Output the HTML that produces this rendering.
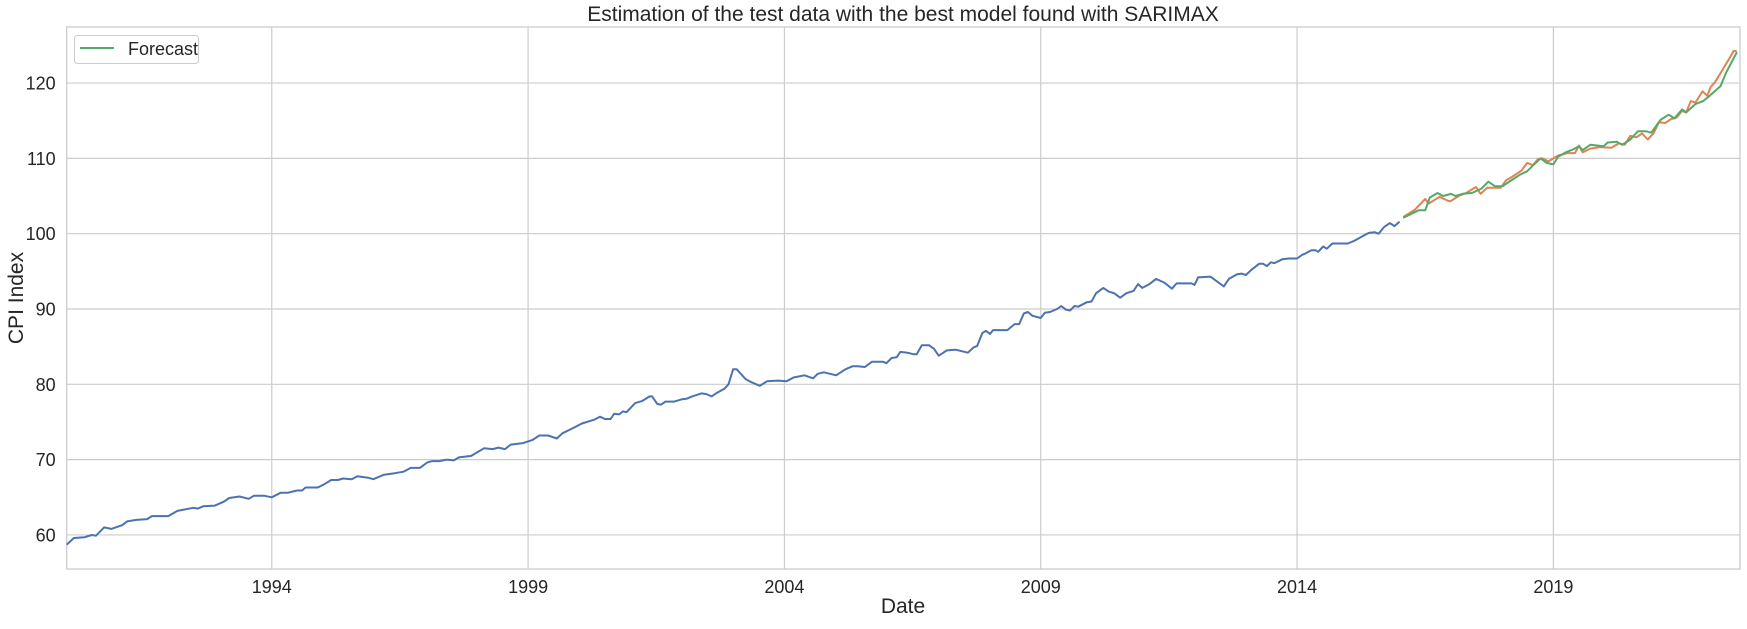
<!DOCTYPE html>
<html><head><meta charset="utf-8"><style>
html,body{margin:0;padding:0;background:#fff;}
svg text{font-family:"Liberation Sans",Arial,sans-serif;fill:#262626;}
</style></head><body>
<svg id="chart" width="1747" height="624" xmlns="http://www.w3.org/2000/svg">
<g id="grid"></g>
<g id="series"></g>
<g id="ticks"></g>
<text x="903" y="21" font-size="21" text-anchor="middle">Estimation of the test data with the best model found with SARIMAX</text>
<text x="903" y="613" font-size="21" text-anchor="middle">Date</text>
<text x="0" y="0" font-size="21" text-anchor="middle" transform="translate(23,298) rotate(-90)">CPI Index</text>
<g>
<rect x="74.5" y="35.5" width="124" height="28" rx="3" fill="#fff" stroke="#cccccc" stroke-width="1"/>
<line x1="80" y1="48" x2="114" y2="48" stroke="#55a868" stroke-width="2"/>
<text x="128" y="55" font-size="18">Forecast</text>
</g>
</svg>
<script>
const trainYears=[1990.0,1990.14,1990.35,1990.49,1990.57,1990.73,1990.87,1991.08,1991.18,1991.36,1991.57,1991.66,1991.98,1992.16,1992.47,1992.56,1992.66,1992.89,1993.06,1993.17,1993.37,1993.55,1993.65,1993.86,1994.0,1994.17,1994.31,1994.49,1994.59,1994.66,1994.9,1995.04,1995.16,1995.29,1995.39,1995.56,1995.67,1995.88,1995.98,1996.19,1996.4,1996.57,1996.71,1996.89,1997.03,1997.13,1997.27,1997.41,1997.55,1997.65,1997.89,1998.14,1998.31,1998.42,1998.55,1998.66,1998.9,1999.08,1999.22,1999.39,1999.56,1999.67,1999.88,2000.05,2000.29,2000.4,2000.5,2000.61,2000.68,2000.78,2000.85,2000.92,2001.09,2001.23,2001.37,2001.42,2001.52,2001.59,2001.68,2001.85,2001.99,2002.1,2002.2,2002.38,2002.48,2002.58,2002.69,2002.83,2002.91,2003.0,2003.07,2003.24,2003.35,2003.52,2003.66,2003.87,2004.04,2004.18,2004.39,2004.56,2004.65,2004.77,2005.01,2005.19,2005.33,2005.43,2005.57,2005.71,2005.92,2005.99,2006.09,2006.19,2006.26,2006.4,2006.51,2006.58,2006.68,2006.82,2006.92,2007.01,2007.17,2007.34,2007.58,2007.69,2007.76,2007.86,2007.93,2008.01,2008.07,2008.35,2008.49,2008.58,2008.67,2008.75,2008.84,2009.0,2009.08,2009.18,2009.32,2009.4,2009.49,2009.57,2009.66,2009.73,2009.9,2009.99,2010.08,2010.22,2010.33,2010.43,2010.55,2010.67,2010.81,2010.9,2010.98,2011.12,2011.25,2011.41,2011.56,2011.65,2011.94,2012.0,2012.07,2012.31,2012.57,2012.67,2012.83,2012.92,2013.0,2013.11,2013.26,2013.34,2013.41,2013.49,2013.56,2013.71,2013.84,2014.0,2014.1,2014.17,2014.28,2014.36,2014.41,2014.51,2014.58,2014.69,2014.99,2015.1,2015.29,2015.4,2015.51,2015.59,2015.7,2015.81,2015.9,2016.0];
const trainValues=[58.7,59.6,59.7,60.0,59.9,61.0,60.8,61.3,61.8,62.0,62.1,62.5,62.5,63.2,63.6,63.5,63.8,63.9,64.4,64.9,65.1,64.8,65.2,65.2,65.0,65.6,65.6,65.9,65.9,66.3,66.3,66.8,67.3,67.3,67.5,67.4,67.8,67.6,67.4,68.0,68.2,68.4,68.9,68.9,69.6,69.8,69.8,70.0,69.9,70.3,70.5,71.5,71.4,71.6,71.4,72.0,72.2,72.6,73.2,73.2,72.8,73.5,74.2,74.8,75.3,75.7,75.4,75.4,76.1,76.0,76.4,76.3,77.5,77.8,78.4,78.4,77.4,77.3,77.7,77.7,78.0,78.1,78.4,78.8,78.7,78.4,78.9,79.4,80.0,82.0,82.0,80.7,80.3,79.8,80.4,80.5,80.4,80.9,81.2,80.8,81.4,81.6,81.2,82.0,82.4,82.4,82.3,83.0,83.0,82.8,83.5,83.6,84.3,84.2,84.0,84.0,85.2,85.2,84.7,83.8,84.5,84.6,84.2,84.9,85.1,86.8,87.1,86.7,87.2,87.2,88.0,88.0,89.4,89.6,89.1,88.8,89.5,89.6,90.0,90.4,89.9,89.8,90.4,90.3,90.9,91.0,92.1,92.8,92.3,92.1,91.5,92.1,92.4,93.3,92.8,93.3,94.0,93.5,92.7,93.4,93.4,93.2,94.2,94.3,93.0,94.0,94.6,94.7,94.5,95.2,96.0,96.0,95.7,96.2,96.1,96.6,96.7,96.7,97.2,97.4,97.8,97.8,97.6,98.3,98.0,98.7,98.7,99.0,99.7,100.1,100.2,100.0,100.9,101.4,101.0,101.6];
const testYears=[2016.07,2016.3,2016.5,2016.57,2016.78,2016.93,2016.99,2017.15,2017.3,2017.49,2017.58,2017.71,2017.97,2018.08,2018.23,2018.38,2018.49,2018.6,2018.7,2018.79,2018.9,2019.0,2019.1,2019.28,2019.42,2019.5,2019.57,2019.72,2019.91,2020.13,2020.28,2020.39,2020.5,2020.62,2020.73,2020.84,2020.95,2021.06,2021.18,2021.29,2021.4,2021.51,2021.59,2021.68,2021.77,2021.91,2022.0,2022.07,2022.15,2022.26,2022.41,2022.52,2022.58];
const testValues=[102.2,103.2,104.6,104.0,104.9,104.4,104.3,105.0,105.4,106.2,105.3,106.1,106.1,107.1,107.7,108.4,109.4,109.1,109.9,110.0,109.6,110.0,110.4,110.7,110.7,111.7,110.8,111.3,111.5,111.4,112.0,111.8,113.0,112.8,113.3,112.5,113.3,114.8,114.7,115.2,115.4,116.3,116.1,117.6,117.4,118.9,118.3,119.5,120.1,121.3,123.0,124.3,124.2];
const forecastYears=[2016.07,2016.37,2016.5,2016.59,2016.74,2016.85,2017.0,2017.09,2017.23,2017.41,2017.6,2017.73,2017.86,2018.01,2018.16,2018.34,2018.49,2018.64,2018.75,2018.87,2019.0,2019.09,2019.24,2019.39,2019.5,2019.57,2019.72,2019.98,2020.06,2020.24,2020.34,2020.5,2020.65,2020.8,2020.91,2021.09,2021.25,2021.36,2021.51,2021.59,2021.77,2021.92,2022.03,2022.26,2022.37,2022.58];
const forecastValues=[102.1,103.1,103.1,104.8,105.4,105.0,105.3,105.0,105.3,105.4,106.0,106.9,106.3,106.3,107.0,107.8,108.3,109.3,110.0,109.4,109.2,110.2,110.8,111.2,111.6,111.1,111.8,111.6,112.1,112.2,111.8,112.5,113.6,113.6,113.4,115.1,115.8,115.3,116.5,116.1,117.2,117.6,118.2,119.6,121.4,124.1];
const yTicks=[60,70,80,90,100,110,120];
const xTicks=[1994,1999,2004,2009,2014,2019];
const xTickLabels=["1994","1999","2004","2009","2014","2019"];

const L=66.7,R=1740,T=27,B=569;
const X0=1990.0,X1=2022.64,Y0=55.48,Y1=127.44;
const xs=v=>L+(v-X0)/(X1-X0)*(R-L);
const ys=v=>B-(v-Y0)/(Y1-Y0)*(B-T);
const NS="http://www.w3.org/2000/svg";
function mk(tag,attrs,parent){const e=document.createElementNS(NS,tag);for(const k in attrs)e.setAttribute(k,attrs[k]);parent.appendChild(e);return e;}
const grid=document.getElementById('grid'),ticks=document.getElementById('ticks'),series=document.getElementById('series');
yTicks.forEach(v=>{
  const l=mk('line',{x1:L,x2:R,y1:ys(v),y2:ys(v),stroke:'#cccccc','stroke-width':1.2},grid);
  
  
  const t=mk('text',{x:L-11,y:ys(v)+6.5,'font-size':18,'text-anchor':'end'},ticks);
  t.textContent=String(v);
  
  
});
xTicks.forEach((v,i)=>{
  const l=mk('line',{x1:xs(v),x2:xs(v),y1:T,y2:B,stroke:'#cccccc','stroke-width':1.2},grid);
  
  
  const t=mk('text',{x:xs(v),y:593,'font-size':18,'text-anchor':'middle'},ticks);
  t.textContent=xTickLabels[i];
  
  
});
const frame=mk('rect',{x:L,y:T,width:R-L,height:B-T,fill:'none',stroke:'#cccccc','stroke-width':1.3},grid);


function line(xv,yv,color,name){
  const d=xv.map((x,i)=>(i?'L':'M')+xs(x).toFixed(1)+','+ys(yv[i]).toFixed(1)).join('');
  const p=mk('path',{d:d,fill:'none',stroke:color,'stroke-width':2,'stroke-linejoin':'round'},series);
  
  
}
line(trainYears,trainValues,'#4c72b0','train-line');
line(testYears,testValues,'#dd8452','test-line');
line(forecastYears,forecastValues,'#55a868','forecast-line');
</script>
</body></html>
